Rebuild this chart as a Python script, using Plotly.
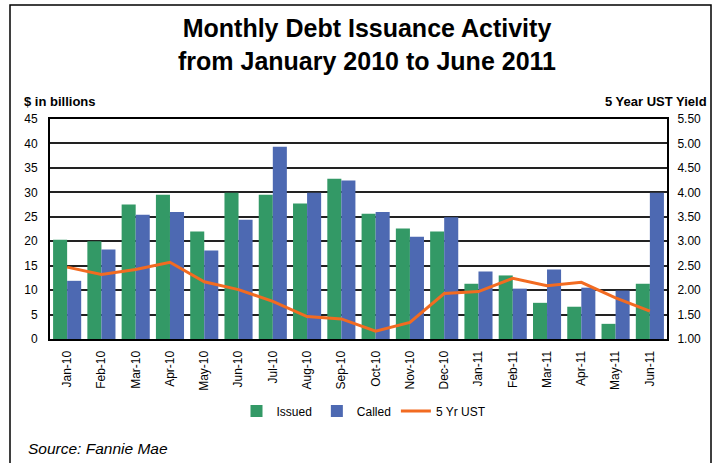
import plotly.graph_objects as go

months = ["Jan-10", "Feb-10", "Mar-10", "Apr-10", "May-10", "Jun-10", "Jul-10", "Aug-10", "Sep-10",
          "Oct-10", "Nov-10", "Dec-10", "Jan-11", "Feb-11", "Mar-11", "Apr-11", "May-11", "Jun-11"]
issued = [20.3, 20.0, 27.5, 29.5, 22.0, 29.9, 29.5, 27.7, 32.8,
          25.6, 22.6, 22.0, 11.3, 13.0, 7.4, 6.6, 3.1, 11.3]
called = [11.9, 18.3, 25.4, 26.0, 18.1, 24.4, 39.3, 29.9, 32.4,
          26.0, 20.9, 24.9, 13.8, 10.3, 14.2, 10.5, 9.9, 29.9]
ust5 = [2.47, 2.32, 2.42, 2.57, 2.17, 2.01, 1.77, 1.46, 1.41,
        1.16, 1.34, 1.93, 1.97, 2.24, 2.09, 2.16, 1.84, 1.57]

FONT = "Arial, Liberation Sans, sans-serif"
W, H = 720, 463
L, R, T, B = 50, 667, 119, 339
pw, ph = R - L, B - T

def px(x):
    return (x - L) / pw

def py(y):
    return (B - y) / ph

fig = go.Figure()
fig.add_trace(go.Bar(x=months, y=issued, name="Issued", marker=dict(color="#339966", line=dict(width=0))))
fig.add_trace(go.Bar(x=months, y=called, name="Called", marker=dict(color="#4D69B2", line=dict(width=0))))
fig.add_trace(go.Scatter(x=months, y=ust5, name="5 Yr UST", yaxis="y2", mode="lines",
                         line=dict(color="#F26B21", width=3)))

fig.update_layout(
    width=W, height=H,
    margin=dict(l=L, r=W - R, t=T, b=H - B, pad=0),
    paper_bgcolor="white", plot_bgcolor="white",
    font=dict(family=FONT, size=12, color="black"),
    barmode="group", bargap=0.18, bargroupgap=0,
    showlegend=True,
    legend=dict(orientation="h", x=px(364), xanchor="center", y=py(411), yanchor="middle",
                font=dict(size=12), traceorder="normal", itemwidth=30),
    xaxis=dict(tickangle=-90, showgrid=False, showline=True, linecolor="black", linewidth=2,
               mirror=True, ticks="", tickfont=dict(size=12), ticklabelstandoff=5),
    yaxis=dict(range=[0, 45], dtick=5, showgrid=True, gridcolor="#222222", gridwidth=1.5,
               showline=True, linecolor="black", linewidth=2, ticks="", zeroline=False,
               tickfont=dict(size=12), ticklabelstandoff=8),
    yaxis2=dict(range=[1, 5.5], dtick=0.5, tickformat=".2f", overlaying="y", side="right",
                showgrid=False, showline=True, linecolor="black", linewidth=2, ticks="",
                zeroline=False, tickfont=dict(size=12), ticklabelstandoff=6),
)

fig.add_annotation(text="<b>Monthly Debt Issuance Activity<br>from January 2010 to June 2011</b>",
                   xref="paper", yref="paper", x=px(367), y=py(44), xanchor="center", yanchor="middle",
                   showarrow=False, font=dict(size=25))
fig.add_annotation(text="<b>$ in billions</b>", xref="paper", yref="paper", x=px(22), y=py(101),
                   xanchor="left", yanchor="middle", showarrow=False, font=dict(size=13))
fig.add_annotation(text="<b>5 Year UST Yield</b>", xref="paper", yref="paper", x=px(709), y=py(101),
                   xanchor="right", yanchor="middle", showarrow=False, font=dict(size=13))
fig.add_annotation(text="<i>Source: Fannie Mae</i>", xref="paper", yref="paper", x=px(26), y=py(448),
                   xanchor="left", yanchor="middle", showarrow=False, font=dict(size=15.5))

fig.add_shape(type="rect", xref="paper", yref="paper", x0=px(10), x1=px(711), y0=py(470), y1=py(5),
              line=dict(color="black", width=1.5), layer="below")

fig.write_html("out.html")
